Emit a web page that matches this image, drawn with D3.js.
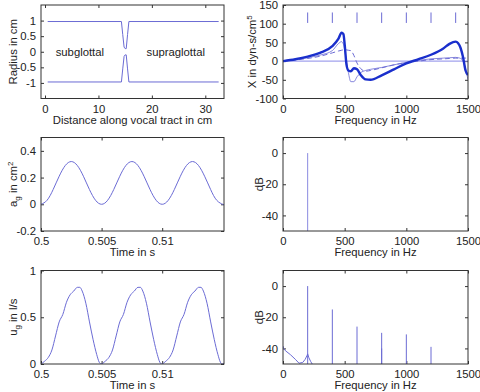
<!DOCTYPE html>
<html>
<head>
<meta charset="utf-8">
<script src="https://cdn.jsdelivr.net/npm/d3@7"></script>
<style>
  body { margin: 0; background: #fff; }
  svg { display: block; font-family: "Liberation Sans", Arial, sans-serif; }
  .tick text { font-size: 11.3px; fill: #222; font-family: "Liberation Sans", Arial, sans-serif; }
  .tick line { stroke: #333; }
  .lbl { font-size: 11.3px; fill: #222; }
</style>
</head>
<body>
<div id="chart"></div>
<script>
// vocal tract radius profile (top left)
const tractX = [0.5, 14.3, 14.55, 14.8, 15.0, 15.2, 15.45, 15.7, 32.5];
const tractR = [0.97, 0.97, 0.55, 0.15, 0.1, 0.1, 0.55, 0.97, 0.97];

// reactance curves (top right)
const xFreq = [0, 100, 200, 300, 400, 450, 475, 490, 500, 515, 530, 550, 575, 600, 630, 670, 710, 800, 900, 1000, 1100, 1200, 1300, 1350, 1400, 1420, 1440, 1460, 1480, 1500];
const xThick = [0, 5, 12, 22, 40, 60, 76, 72, 45, -10, -25, -27, -19, -22, -37, -49, -50, -38, -22, -6, 5, 17, 34, 46, 52, 48, 35, 10, -25, -37];
const xThin = [0, 4, 9, 16, 28, 47, 52, 45, 30, 0, -30, -55, -55, -42, -31, -25, -22, -17, -10, -3, 2, 6, 8, 9, 10, 9, 7, 0, -20, -50];
const xDash = [0, 3, 7, 13, 22, 27, 29, 30, 30, 30, 29, 28, 15, -5, -20, -27, -25, -18, -10, -4, 0, 4, 6, 7, 8, 8, 8, 8, 8, 8];
const markFreq = [200, 400, 600, 800, 1000, 1200, 1400];

// glottal area (middle left)
const agT = [0.5, 0.5005, 0.501, 0.5015, 0.502, 0.5025, 0.503, 0.5035, 0.504, 0.5045,
             0.505, 0.5055, 0.506, 0.5065, 0.507, 0.5075, 0.508, 0.5085, 0.509, 0.5095,
             0.51, 0.5105, 0.511, 0.5115, 0.512, 0.5125, 0.513, 0.5135, 0.514, 0.5145,
             0.515, 0.5151];
const agV = [0, 0.03, 0.11, 0.21, 0.29, 0.32, 0.29, 0.21, 0.11, 0.03,
             0, 0.03, 0.11, 0.21, 0.29, 0.32, 0.29, 0.21, 0.11, 0.03,
             0, 0.03, 0.11, 0.21, 0.29, 0.32, 0.29, 0.21, 0.11, 0.03,
             0, 0.0005];

// glottal flow (bottom left)
const ugT = [0.5, 0.5003, 0.5006, 0.5009, 0.5012, 0.5015, 0.5018, 0.5021, 0.5024, 0.5027, 0.503, 0.5032, 0.5034, 0.5037, 0.504, 0.5043, 0.5046, 0.5048, 0.50495,
             0.5053, 0.5056, 0.5059, 0.5062, 0.5065, 0.5068, 0.5071, 0.5074, 0.5077, 0.508, 0.5082, 0.5084, 0.5087, 0.509, 0.5093, 0.5096, 0.5098, 0.50995,
             0.5103, 0.5106, 0.5109, 0.5112, 0.5115, 0.5118, 0.5121, 0.5124, 0.5127, 0.513, 0.5132, 0.5134, 0.5137, 0.514, 0.5143, 0.5146, 0.5148, 0.51495, 0.5151];
const ugV = [0, 0.03, 0.07, 0.15, 0.3, 0.45, 0.53, 0.66, 0.74, 0.78, 0.82, 0.82, 0.78, 0.65, 0.45, 0.26, 0.1, 0.02, 0,
             0.03, 0.07, 0.15, 0.3, 0.45, 0.53, 0.66, 0.74, 0.78, 0.82, 0.82, 0.78, 0.65, 0.45, 0.26, 0.1, 0.02, 0,
             0.03, 0.07, 0.15, 0.3, 0.45, 0.53, 0.66, 0.74, 0.78, 0.82, 0.82, 0.78, 0.65, 0.45, 0.26, 0.1, 0.02, 0, 0.01];

// spectra (middle / bottom right)
const areaHarmF = [200];
const areaHarmDb = [0];
const flowHarmF = [200, 400, 600, 800, 800, 1000, 1200];
const flowHarmDb = [0, -15, -26, -30, -40, -31, -39];
const floorF = [0, 5, 20, 60, 100, 130, 160, 180, 195, 200, 210, 225, 245];
const floorDb = [-38.5, -40, -41.5, -44, -47, -49.5, -49, -47, -44.5, -43.5, -46, -48.5, -51];

const W = 480, H = 392;
const BLUE = "#6b6bd4", DARK = "#1a2fcc";

const svg = d3.select("#chart").append("svg")
  .attr("width", W).attr("height", H);

let clipId = 0;
function makeAxes(box, xDom, yDom, xTicks, yTicks) {
  const x = d3.scaleLinear().domain(xDom).range([box.x0, box.x1]);
  const y = d3.scaleLinear().domain(yDom).range([box.y1, box.y0]);
  const fmt = d => String(d);
  const g = svg.append("g");

  g.append("g").attr("transform", `translate(0,${box.y1})`)
    .call(d3.axisBottom(x).tickValues(xTicks).tickFormat(fmt).tickSize(-3).tickPadding(6));
  g.append("g").attr("transform", `translate(0,${box.y0})`)
    .call(d3.axisTop(x).tickValues(xTicks).tickFormat("").tickSize(-3));
  g.append("g").attr("transform", `translate(${box.x0},0)`)
    .call(d3.axisLeft(y).tickValues(yTicks).tickFormat(fmt).tickSize(-3).tickPadding(5));
  g.append("g").attr("transform", `translate(${box.x1},0)`)
    .call(d3.axisRight(y).tickValues(yTicks).tickFormat("").tickSize(-3));
  g.selectAll(".domain").remove();

  const id = "clip" + (clipId++);
  svg.append("clipPath").attr("id", id).append("rect")
    .attr("x", box.x0).attr("y", box.y0)
    .attr("width", box.x1 - box.x0).attr("height", box.y1 - box.y0);
  const plot = svg.append("g").attr("clip-path", `url(#${id})`);

  svg.append("rect")
    .attr("x", box.x0).attr("y", box.y0)
    .attr("width", box.x1 - box.x0).attr("height", box.y1 - box.y0)
    .attr("fill", "none").attr("stroke", "#333").attr("stroke-width", 1);

  return { x, y, plot, box };
}

function line(ax, xs, ys, color, width, dash, curve) {
  const pts = xs.map((v, i) => [v, ys[i]]);
  ax.plot.append("path")
    .datum(pts)
    .attr("d", d3.line().x(d => ax.x(d[0])).y(d => ax.y(d[1])).curve(curve || d3.curveLinear))
    .attr("fill", "none")
    .attr("stroke", color)
    .attr("stroke-width", width)
    .attr("stroke-dasharray", dash || null);
}

function stems(ax, xs, ys, color) {
  ax.plot.selectAll(null)
    .data(xs.map((v, i) => [v, ys[i]]))
    .join("line")
      .attr("x1", d => ax.x(d[0])).attr("x2", d => ax.x(d[0]))
      .attr("y1", d => ax.y(d[1])).attr("y2", ax.box.y1)
      .attr("stroke", color).attr("stroke-width", 1);
}

function xLabel(ax, txt) {
  const cx = (ax.box.x0 + ax.box.x1) / 2;
  svg.append("text").attr("class", "lbl")
    .attr("x", cx).attr("y", ax.box.y1 + 25).attr("text-anchor", "middle")
    .text(txt);
}

// parts: [text, kind] kind: null | "sub" | "sup" | "back"
function yLabel(ax, xc, parts) {
  const cy = (ax.box.y0 + ax.box.y1) / 2;
  const t = svg.append("text").attr("class", "lbl")
    .attr("text-anchor", "middle")
    .attr("transform", `translate(${xc},${cy}) rotate(-90)`)
    .attr("dy", "0.35em");
  parts.forEach(([s, kind]) => {
    const sp = t.append("tspan").text(s);
    if (kind === "sub") sp.attr("font-size", "8px").attr("dy", "3");
    if (kind === "sup") sp.attr("font-size", "8px").attr("dy", "-4");
    if (kind === "back") sp.attr("dy", "-3");
  });
}

const colL = { x0: 41, x1: 224 }, colR = { x0: 283, x1: 468 };
const rows = [[5, 98.5], [137.5, 231], [270.5, 364]];
const box = (c, r) => ({ x0: c.x0, x1: c.x1, y0: rows[r][0], y1: rows[r][1] });

// top left: radius
const a1 = makeAxes(box(colL, 0), [-0.75, 33.5], [-1.5, 1.5], [0, 10, 20, 30], [-1, -0.5, 0, 0.5, 1]);
line(a1, tractX, tractR, BLUE, 1);
line(a1, tractX, tractR.map(v => -v), BLUE, 1);
svg.append("text").attr("class", "lbl").attr("x", a1.x(2)).attr("y", a1.y(0)).attr("dy", "0.35em").text("subglottal");
svg.append("text").attr("class", "lbl").attr("x", a1.x(19)).attr("y", a1.y(0)).attr("dy", "0.35em").text("supraglottal");
xLabel(a1, "Distance along vocal tract in cm");
yLabel(a1, 13, [["Radius in cm"]]);

// top right: reactance
const a2 = makeAxes(box(colR, 0), [0, 1500], [-100, 150], [0, 500, 1000, 1500], [-100, -50, 0, 50, 100, 150]);
line(a2, [0, 1500], [0, 0], "#8a8ae8", 1);
line(a2, xFreq, xDash, BLUE, 1, "5,3", d3.curveMonotoneX);
line(a2, xFreq, xThin, BLUE, 0.8, null, d3.curveMonotoneX);
line(a2, xFreq, xThick, DARK, 2.4, null, d3.curveMonotoneX);
a2.plot.selectAll(null).data(markFreq).join("line")
  .attr("x1", d => a2.x(d)).attr("x2", d => a2.x(d))
  .attr("y1", a2.y(102)).attr("y2", a2.y(130))
  .attr("stroke", BLUE).attr("stroke-width", 1);
xLabel(a2, "Frequency in Hz");
yLabel(a2, 252, [["X in dyn-s/cm"], ["5", "sup"]]);

// middle left: glottal area
const a3 = makeAxes(box(colL, 1), [0.5, 0.5151], [-0.2, 0.5], [0.5, 0.505, 0.51], [-0.2, 0, 0.2, 0.4]);
line(a3, agT, agV, BLUE, 1, null, d3.curveNatural);
xLabel(a3, "Time in s");
yLabel(a3, 13, [["a"], ["g", "sub"], [" in cm", "back"], ["2", "sup"]]);

// middle right: area spectrum
const a4 = makeAxes(box(colR, 1), [0, 1500], [-50, 10], [0, 500, 1000, 1500], [-40, -20, 0]);
stems(a4, areaHarmF, areaHarmDb, "#8a8ae0");
xLabel(a4, "Frequency in Hz");
yLabel(a4, 259, [["dB"]]);

// bottom left: glottal flow
const a5 = makeAxes(box(colL, 2), [0.5, 0.5151], [0, 1], [0.5, 0.505, 0.51], [0, 0.5, 1]);
line(a5, ugT, ugV, BLUE, 1, null, d3.curveMonotoneX);
xLabel(a5, "Time in s");
yLabel(a5, 13, [["u"], ["g", "sub"], [" in l/s", "back"]]);

// bottom right: flow spectrum
const a6 = makeAxes(box(colR, 2), [0, 1500], [-50, 10], [0, 500, 1000, 1500], [-40, -20, 0]);
line(a6, floorF, floorDb, BLUE, 1);
stems(a6, flowHarmF, flowHarmDb, BLUE);
xLabel(a6, "Frequency in Hz");
yLabel(a6, 259, [["dB"]]);
</script>
</body>
</html>
